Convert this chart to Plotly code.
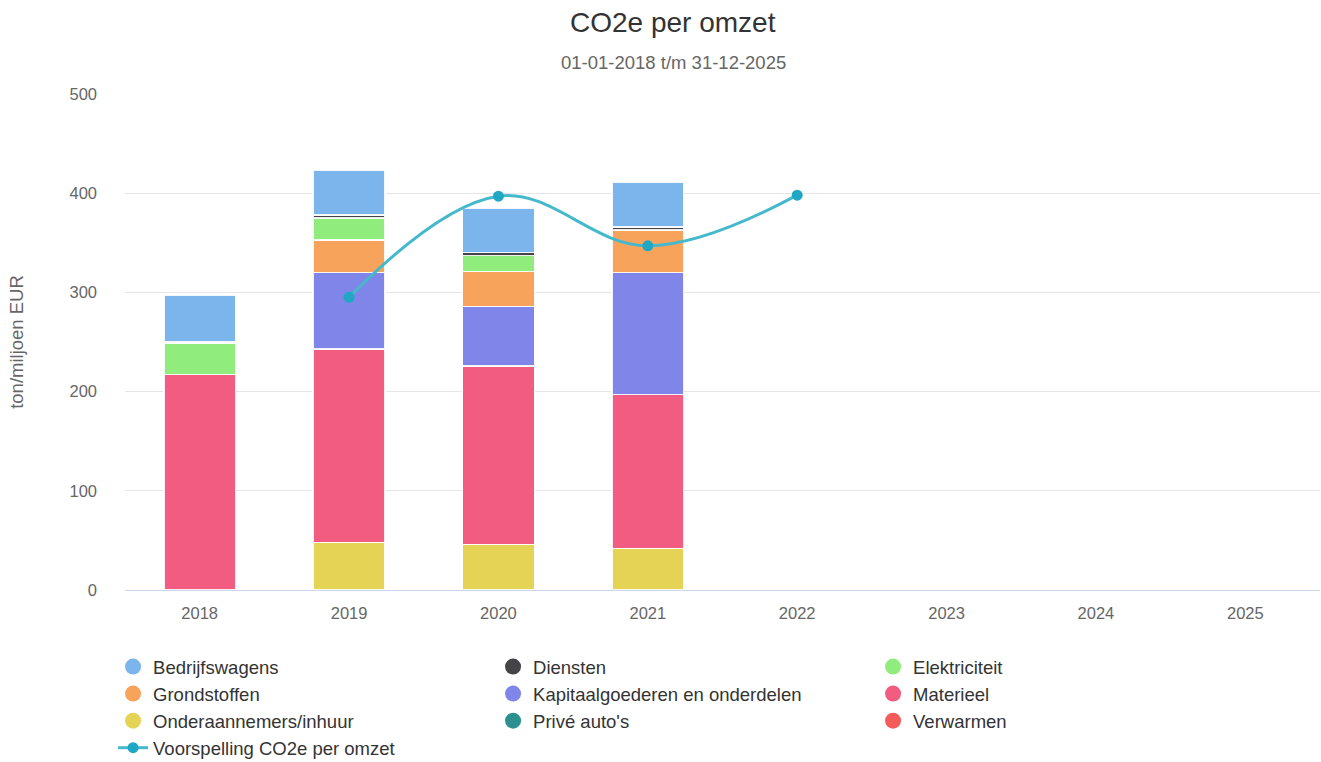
import plotly.graph_objects as go

years = ["2018", "2019", "2020", "2021", "2022", "2023", "2024", "2025"]

verwarmen = [0, 0, 0, 0, None, None, None, None]
onderaannemers = [0, 48, 46, 42, None, None, None, None]
materieel = [217, 195, 180, 155, None, None, None, None]
kapitaal = [0, 77, 60, 123, None, None, None, None]
grondstoffen = [0, 33, 35, 43, None, None, None, None]
elektriciteit = [32, 22, 16, 0, None, None, None, None]
prive = [0, 0, 0, 0, None, None, None, None]
diensten = [1, 3, 3, 3, None, None, None, None]
bedrijfswagens = [47, 45, 45, 45, None, None, None, None]

voorspelling = [None, 295, 397, 347, 398, None, None, None]

# stacking order bottom -> top, with legend names and colours
stack = [
    ("Verwarmen", verwarmen, "#f45b5b"),
    ("Onderaannemers/inhuur", onderaannemers, "#e4d354"),
    ("Materieel", materieel, "#f15c80"),
    ("Kapitaalgoederen en onderdelen", kapitaal, "#8085e9"),
    ("Grondstoffen", grondstoffen, "#f7a35c"),
    ("Elektriciteit", elektriciteit, "#90ed7d"),
    ("Privé auto's", prive, "#2b908f"),
    ("Diensten", diensten, "#434348"),
    ("Bedrijfswagens", bedrijfswagens, "#7cb5ec"),
]
colors = {n: c for n, _, c in stack}
legend_order = ["Bedrijfswagens", "Diensten", "Elektriciteit", "Grondstoffen",
                "Kapitaalgoederen en onderdelen", "Materieel",
                "Onderaannemers/inhuur", "Privé auto's", "Verwarmen"]

fig = go.Figure()
for name, vals, col in stack:
    fig.add_trace(go.Bar(
        x=years, y=vals, name=name, legendgroup=name, showlegend=False,
        marker=dict(color=col, line=dict(color="rgba(255,255,255,0.9)", width=1.5)),
    ))

for i, name in enumerate(legend_order):
    fig.add_trace(go.Scatter(
        x=[None], y=[None], mode="markers", name=name, legendgroup=name,
        marker=dict(symbol="circle", size=20, color=colors[name]),
        legendrank=i + 1,
    ))

fig.add_trace(go.Scatter(
    x=years, y=voorspelling, name="Voorspelling CO2e per omzet",
    mode="lines+markers", line=dict(color="#45b9cc", width=3, shape="spline", smoothing=1.1),
    marker=dict(color="#1fa7c4", size=11), connectgaps=False, legendrank=20,
))

fig.update_layout(
    barmode="stack",
    bargap=0.52,
    width=1321, height=762,
    margin=dict(l=125, r=1, t=94, b=172, autoexpand=False),
    plot_bgcolor="white", paper_bgcolor="white",
    font=dict(family="Liberation Sans, Arial, sans-serif", color="#333333"),
    showlegend=True,
    legend=dict(
        orientation="h", x=-0.010, xanchor="left", y=-0.117, yanchor="top",
        entrywidth=335, entrywidthmode="pixels",
        font=dict(size=18.5, color="#333333"),
        tracegroupgap=0, traceorder="normal",
    ),
    annotations=[
        dict(text="CO2e per omzet", xref="paper", yref="paper", x=0.4586, y=1.145,
             xanchor="center", yanchor="middle", showarrow=False,
             font=dict(size=28, color="#333333")),
        dict(text="01-01-2018 t/m 31-12-2025", xref="paper", yref="paper", x=0.4586, y=1.0645,
             xanchor="center", yanchor="middle", showarrow=False,
             font=dict(size=18.5, color="#666666")),
    ],
)
fig.update_xaxes(
    type="category", categoryorder="array", categoryarray=years,
    showgrid=False, showline=True, linecolor="#ccd6eb", linewidth=1,
    tickfont=dict(size=16.5, color="#666666"), ticks="", ticklabelstandoff=8,
)
fig.update_yaxes(
    range=[0, 500], dtick=100, showgrid=True, gridcolor="#e6e6e6", gridwidth=1,
    zeroline=False, showline=False,
    tickfont=dict(size=16.5, color="#666666"), ticklabelstandoff=27,
    title=dict(text="ton/miljoen EUR", font=dict(size=18.5, color="#666666"), standoff=40),
)

fig.write_html("out.html", config={"displayModeBar": False},
               post_script="document.body.style.margin='0';")
